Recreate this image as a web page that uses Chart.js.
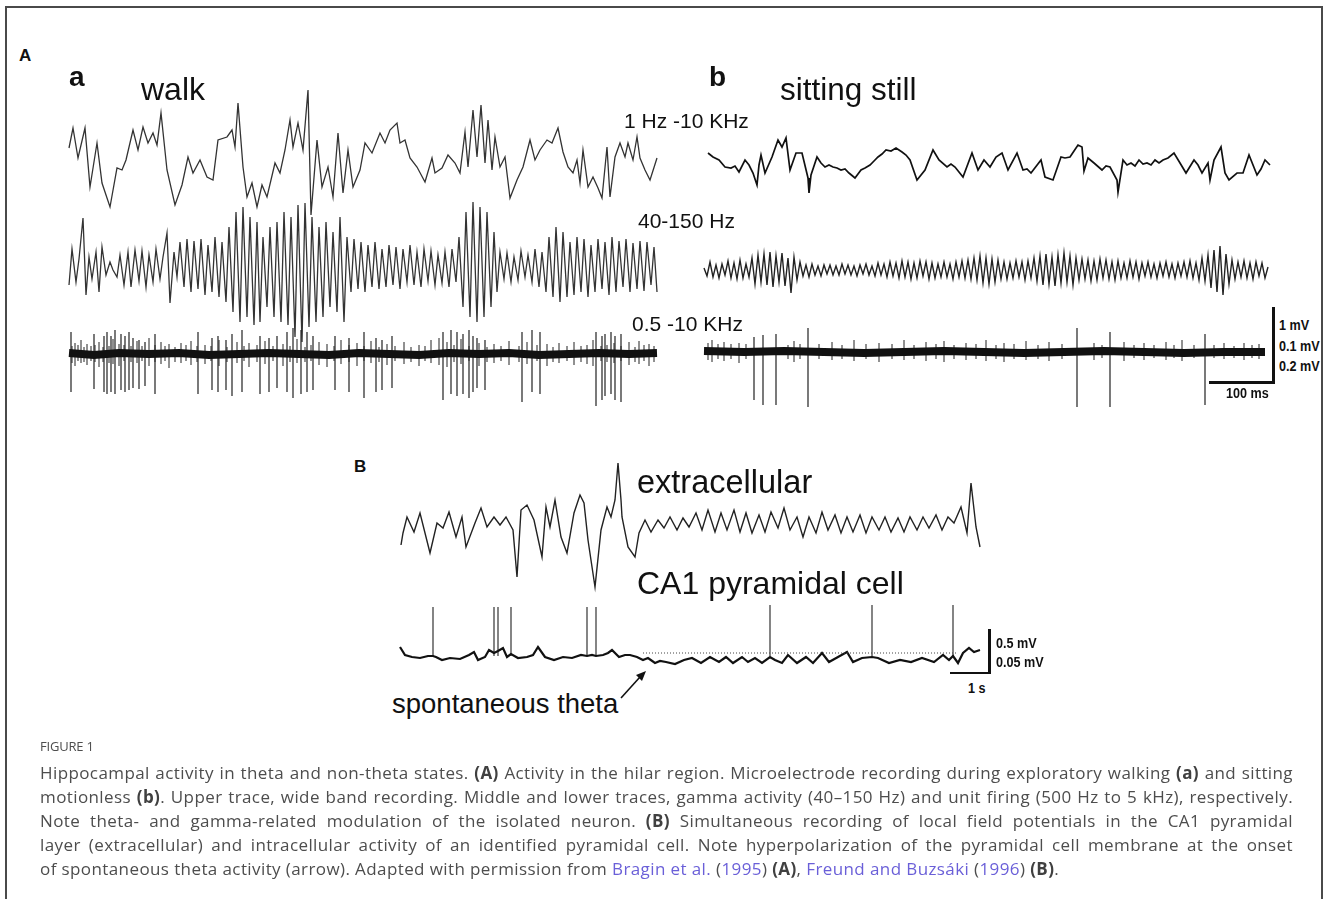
<!DOCTYPE html>
<html>
<head>
<meta charset="utf-8">
<script src="https://cdn.jsdelivr.net/npm/chart.js@4.4.1/dist/chart.umd.min.js"></script>
<style>
  html, body { margin: 0; padding: 0; background: #fff; }
  #fig { position: relative; width: 1328px; height: 899px; overflow: hidden; background: #fff; }
  #frame { position: absolute; left: 5px; top: 6px; width: 1314px; height: 900px;
           border: 2px solid #4a4a4a; border-bottom: none; }
  canvas { position: absolute; }
  .lbl { position: absolute; font-family: "Liberation Sans", Arial, sans-serif; color: #111;
         line-height: 1; white-space: nowrap; }
  .bold { font-weight: bold; }
  .sc { position: absolute; font-family: "Liberation Sans", Arial, sans-serif;
        font-weight: bold; font-size: 14px; line-height: 1; color: #111; white-space: nowrap;
        transform: scaleX(0.9); transform-origin: 0 0; }
  .bar { position: absolute; background: #111; }
  #cap { position: absolute; left: 40px; top: 738px; width: 1253px; font-family: "Open Sans", "Noto Sans", sans-serif;
         color: #4d4d4d; }
  #cap .head { font-size: 13px; line-height: 16px; height: 23px; letter-spacing: -0.2px; }
  #cap .cl { font-size: 17px; letter-spacing: 0.4px; line-height: 24px; height: 24px; text-align: justify; text-align-last: justify; }
  #cap .cl.last { text-align-last: left; }
  #cap b { font-weight: 700; color: #404040; }
  #cap .lk { color: #6a5fd8; }
</style>
</head>
<body>
<div id="fig">
  <div id="frame"></div>
</div>
<script>
// Traces: [time, amplitude] in figure units (1 unit ~ 1 px), amplitude up = positive

// A a - walk, wide band 1 Hz-10 kHz
const walkWide = [[0,7],[4,27],[9,-3],[16,27],[21,-32],[28,12],[33,-28],[41,-52],[48,-13],[53,-15],[57,-5],[64,25],[69,5],[74,28],[79,12],[84,22],[88,10],[92,42],[98,-15],[106,-50],[113,-30],[119,-2],[124,-18],[131,-5],[138,-22],[144,-25],[149,15],[158,18],[163,25],[166,8],[169,52],[174,-12],[178,-42],[183,-28],[188,-52],[193,-30],[198,-42],[206,-8],[211,-18],[216,5],[221,35],[224,8],[229,32],[234,5],[239,65],[242,-60],[248,15],[253,-32],[259,-12],[264,-42],[269,22],[274,-38],[279,5],[284,-32],[291,-15],[296,12],[303,2],[311,22],[316,12],[321,25],[328,32],[331,12],[336,15],[341,-3],[348,-12],[356,-27],[363,-3],[366,-18],[373,-13],[379,0],[386,-8],[391,-18],[396,23],[399,-12],[404,45],[408,-2],[412,50],[416,-8],[419,35],[423,-15],[426,18],[431,-12],[436,-2],[441,-43],[448,-25],[454,-12],[461,15],[466,-5],[471,5],[478,15],[483,12],[489,27],[494,3],[499,-12],[504,-18],[508,-5],[511,-28],[514,5],[519,-32],[524,-22],[529,-33],[533,-43],[538,8],[541,-42],[546,-2],[551,12],[556,-2],[559,12],[564,-5],[568,18],[571,-3],[576,-15],[581,-25],[588,-3]];

// A a - walk, gamma 40-150 Hz
const walkGamma = [[0,-18],[3,18],[7,-15],[10,8],[14,49],[17,-28],[20,10],[23,-12],[27,15],[30,-25],[33,20],[37,-8],[41,5],[44,-3],[48,-10],[51,12],[55,-18],[59,15],[62,-20],[66,17],[70,-14],[73,16],[77,-20],[80,12],[84,-15],[87,18],[91,-12],[94,10],[98,34],[101,-36],[105,15],[108,-10],[111,25],[115,-20],[118,28],[122,-25],[125,26],[129,-22],[132,28],[136,-28],[139,22],[143,-25],[146,30],[150,-30],[153,25],[157,-35],[160,40],[164,-45],[167,55],[171,-55],[174,60],[178,-50],[181,50],[185,-58],[188,45],[191,-55],[194,30],[198,-40],[201,40],[205,-50],[208,45],[212,-55],[215,55],[219,-58],[222,50],[226,-70],[229,62],[233,-75],[236,64],[240,-60],[243,50],[247,-55],[250,40],[254,-50],[257,45],[261,-40],[264,35],[268,-45],[271,50],[275,-55],[278,30],[282,-25],[285,28],[289,-22],[292,25],[296,-25],[299,22],[303,-20],[306,25],[310,-22],[313,18],[317,-20],[320,22],[324,-18],[327,20],[331,-22],[334,18],[338,-15],[341,22],[345,-18],[348,15],[352,-20],[355,18],[359,-14],[362,16],[366,-18],[369,12],[373,-16],[376,15],[380,-20],[383,18],[387,-15],[390,30],[394,-40],[397,55],[401,-50],[404,65],[408,-55],[411,60],[415,-50],[418,55],[422,-40],[425,35],[428,-25],[431,15],[435,-12],[438,14],[442,-15],[445,10],[449,-13],[452,16],[456,-10],[459,12],[463,-15],[466,18],[470,-20],[473,15],[477,-25],[480,30],[484,-30],[487,40],[491,-35],[494,35],[498,-30],[501,25],[505,-28],[508,30],[512,-25],[515,28],[519,-30],[522,22],[526,-25],[529,28],[533,-22],[536,25],[540,-28],[543,30],[547,-25],[550,26],[554,-20],[557,28],[561,-25],[564,24],[568,-22],[571,26],[575,-24],[578,25],[582,-18],[585,20],[588,-25]];

// A a - walk, units 0.5-10 kHz: noise band, small deflections, spikes [time, low, high]
const walkBand = [[0,1],[25,-1],[50,1],[80,0],[110,1],[140,-1],[170,0],[200,1],[230,0],[260,-1],[290,1],[320,0],[350,-1],[380,1],[410,0],[440,1],[470,-1],[500,0],[530,1],[560,0],[588,1]];
const walkHairs = [[3,-9,8],[6,-12,11],[9,-7,9],[12,-9,14],[15,-8,7],[18,-11,10],[22,-7,8],[26,-8,9],[30,-13,12],[34,-8,7],[40,-9,8],[44,-10,15],[50,-12,10],[55,-7,9],[62,-8,8],[68,-9,13],[73,-7,8],[80,-12,16],[86,-8,9],[92,-10,12],[96,-7,8],[100,-14,10],[106,-8,7],[112,-9,11],[117,-7,9],[122,-11,13],[128,-8,8],[136,-10,9],[142,-7,8],[150,-12,14],[158,-8,7],[168,-9,12],[175,-7,8],[180,-13,11],[188,-8,9],[196,-10,13],[204,-7,8],[214,-12,10],[221,-8,8],[228,-9,15],[236,-8,7],[242,-7,9],[250,-11,12],[258,-13,10],[265,-7,8],[272,-10,14],[280,-8,9],[288,-12,11],[295,-7,8],[302,-9,13],[310,-8,7],[318,-11,10],[326,-7,8],[335,-10,12],[342,-8,7],[350,-12,9],[356,-7,8],[362,-9,14],[370,-11,16],[378,-13,12],[385,-8,9],[392,-10,15],[400,-7,8],[410,-12,11],[418,-8,7],[425,-9,10],[432,-7,8],[440,-11,13],[450,-8,8],[458,-10,12],[468,-7,9],[478,-12,10],[484,-8,7],[490,-9,11],[498,-7,8],[505,-11,12],[512,-8,8],[518,-10,9],[524,-12,14],[532,-7,8],[538,-8,9],[545,-9,11],[552,-7,8],[560,-11,12],[566,-8,7],[570,-10,13],[575,-7,9],[580,-12,10],[585,-8,8]];
const walkSpikes = [[2,-38,22],[25,-35,20],[35,-38,18],[38,-40,22],[42,-38,18],[46,-40,24],[52,-36,20],[56,-38,18],[60,-36,22],[64,-34,16],[70,-35,14],[76,-32,12],[86,-40,20],[129,-40,22],[143,-36,16],[149,-38,18],[157,-36,14],[163,-42,20],[173,-38,24],[191,-40,18],[200,-38,16],[208,-34,18],[218,-38,22],[224,-44,26],[232,-40,24],[238,-38,22],[244,-36,18],[266,-36,18],[280,-38,16],[295,-44,22],[307,-38,16],[313,-36,14],[323,-34,18],[374,-46,22],[382,-40,24],[388,-42,22],[394,-40,20],[400,-44,24],[404,-38,18],[408,-34,16],[416,-36,14],[453,-48,22],[463,-38,24],[471,-40,22],[527,-52,22],[533,-46,18],[536,-42,20],[542,-40,22],[546,-46,18],[552,-48,20]];

// A b - sitting still, wide band
const stillWide = [[1,10],[6,6],[12,3],[18,-4],[24,-5],[28,-3],[32,-9],[38,3],[42,-2],[46,-10],[50,-22],[52,-2],[54,8],[58,-10],[65,6],[71,23],[75,16],[79,25],[83,-7],[89,10],[95,10],[101,-15],[102,-30],[104,-12],[110,6],[114,0],[118,-4],[122,-2],[126,-4],[130,-5],[134,-7],[138,-6],[142,-10],[148,-15],[154,-7],[158,-5],[163,-2],[167,2],[171,6],[175,9],[179,13],[184,12],[189,15],[195,11],[199,8],[203,3],[210,-17],[218,-7],[226,13],[232,3],[240,-4],[244,-1],[248,-4],[256,-14],[265,10],[271,-7],[277,3],[283,-4],[289,6],[295,10],[301,-7],[310,10],[316,-7],[320,-6],[324,-10],[334,3],[338,-14],[346,-17],[354,6],[358,5],[363,6],[367,12],[371,18],[375,16],[377,-8],[381,5],[387,0],[395,-7],[399,-3],[403,-4],[410,-17],[411,-29],[416,3],[420,-2],[424,0],[428,-3],[432,3],[436,-1],[440,0],[444,-2],[448,3],[452,0],[456,3],[461,5],[467,10],[473,0],[479,-10],[487,3],[491,-2],[495,-10],[501,0],[503,-17],[507,3],[514,16],[518,-10],[522,-17],[530,-10],[536,-10],[542,8],[550,-12],[554,-6],[558,3],[563,-2]];

// A b - sitting still, gamma (one sample every 3 units)
const stillGammaStep = 3;
const stillGamma = [2,-6,8,-7,5,-8,6,-5,9,-8, 7,-9,10,-8,6,-7,12,-14,15,-12, 16,-15,18,-17,14,-12,17,-16,12,-23,
  13,-10,8,-6,5,-7,6,-5,4,-6, 5,-4,5,-5,4,-5,6,-4,5,-5, 4,-6,5,-4,6,-5,4,-6,7,-5,
  6,-7,8,-6,7,-8,9,-7,8,-9, 7,-8,9,-6,8,-9,7,-8,6,-7, 8,-7,6,-9,8,-7,9,-8,10,-9,
  12,-10,14,-13,12,-14,11,-12,10,-9, 8,-9,7,-8,9,-7,8,-10,9,-8, 12,-11,14,-15,16,-14,13,-16,15,-13,
  17,-12,14,-15,12,-10,11,-9,10,-11, 9,-10,11,-8,10,-9,8,-10,9,-8, 7,-8,9,-7,8,-9,7,-6,8,-7,
  6,-8,7,-6,8,-7,6,-8,7,-6, 8,-7,9,-8,7,-10,12,-11,15,-18, 20,-22,24,-25,16,-14,10,-9,8,-7,
  9,-8,7,-9,8,-6,7,-8,3];

// A b - sitting still, units
const stillBand = [[0,1],[40,0],[80,1],[120,0],[160,-1],[200,0],[240,1],[280,0],[320,-1],[360,0],[400,1],[440,0],[480,-1],[520,0],[561,0]];
const stillHairs = [[4,-8,9],[8,-10,12],[14,-7,8],[20,-9,10],[27,-7,8],[35,-11,9],[42,-7,8],[84,-7,7],[90,-10,11],[96,-7,8],[115,-7,8],[128,-8,10],[138,-7,7],[150,-9,12],[162,-7,8],[175,-10,9],[188,-7,8],[200,-8,12],[210,-7,7],[222,-9,10],[232,-7,8],[240,-10,11],[250,-7,7],[262,-8,9],[272,-7,8],[282,-9,12],[292,-7,7],[300,-10,9],[310,-7,8],[322,-8,11],[334,-7,7],[345,-9,10],[358,-7,8],[390,-8,9],[398,-6,7],[420,-9,10],[430,-6,7],[440,-8,9],[450,-6,7],[462,-8,10],[470,-6,7],[478,-9,12],[490,-6,7],[510,-6,7],[520,-7,9],[530,-6,6],[540,-8,9],[548,-6,7],[555,-7,8]];
const stillSpikes = [[50,-48,15],[59,-53,17],[72,-53,18],[104,-55,24],[373,-55,24],[406,-55,20],[501,-53,18]];

// B - extracellular
const extra = [[0,-20],[2,-8],[6,8],[13,-7],[19,12],[25,-12],[29,-28],[36,2],[42,-3],[48,13],[55,-12],[61,8],[65,-22],[74,2],[80,17],[86,-2],[93,8],[99,0],[105,8],[112,-5],[116,-52],[120,15],[126,20],[133,5],[141,-32],[145,18],[149,-2],[154,25],[160,-12],[166,-28],[173,12],[179,30],[183,22],[187,-15],[194,-62],[200,-5],[206,18],[210,8],[214,25],[217,62],[220,25],[221,8],[227,-22],[234,-32],[238,-8],[244,5],[250,-7],[257,5],[263,-3],[269,8],[276,-5],[282,7],[288,-2],[295,12],[301,-5],[307,15],[314,-7],[320,12],[326,-5],[333,15],[339,-7],[345,12],[351,-8],[358,10],[364,-7],[370,13],[377,-3],[383,17],[389,-5],[396,8],[402,-12],[408,8],[415,-8],[421,13],[427,-5],[434,10],[440,-8],[446,8],[452,-7],[459,10],[465,-8],[471,8],[478,-5],[484,8],[490,-7],[497,7],[503,-7],[509,8],[516,-5],[522,8],[528,-3],[535,10],[541,-5],[547,8],[553,2],[560,18],[566,-8],[570,42],[575,-2],[579,-22]];

// B - CA1 pyramidal cell (membrane trace, spikes [time, peak], reference level)
const ca1 = [[0,10],[5,2],[12,0],[20,-1],[28,1],[33,1],[36,0],[42,-3],[50,-1],[60,-2],[69,2],[74,5],[78,-3],[85,0],[89,7],[94,4],[98,6],[103,9],[107,0],[111,3],[118,-1],[127,0],[133,2],[138,10],[145,0],[154,-3],[163,0],[172,-1],[181,2],[187,1],[192,2],[196,1],[203,2],[208,4],[212,7],[219,0],[225,2],[230,2],[237,0],[243,-3],[248,-1],[255,-6],[260,-4],[266,-5],[275,-7],[284,-3],[292,-1],[301,-6],[310,0],[319,-5],[326,0],[333,-6],[342,0],[348,-5],[355,-1],[362,-6],[370,0],[375,-3],[382,-6],[388,2],[397,-6],[406,0],[413,-6],[422,4],[429,-5],[438,0],[447,5],[453,-5],[462,-1],[472,0],[478,-1],[489,-6],[500,-3],[511,-5],[522,-1],[534,-5],[543,2],[549,-3],[553,1],[558,-6],[563,4],[569,9],[574,5],[580,7]];
const ca1Spikes = [[33,50],[94,50],[98,50],[111,50],[187,50],[196,50],[370,52],[472,52],[553,52]];
const ca1Ref = [[243,4],[556,4]];

// ---- drawing ----
const fig = document.getElementById('fig');
const PAD = 6;

function toXY(pairs) { return pairs.map(p => ({x: p[0], y: p[1]})); }
function toSegs(list) {
  const out = [];
  for (const s of list) { out.push({x: s[0], y: s[1]}, {x: s[0], y: s[2]}, {x: s[0], y: null}); }
  return out;
}
function ds(data, color, width, extra) {
  return Object.assign({data: data, borderColor: color, borderWidth: width, pointRadius: 0,
    tension: 0, clip: false, spanGaps: false, fill: false, borderCapStyle: 'butt'}, extra || {});
}

// pos: x0 = left of trace, w = trace length, base = baseline y, top/h = canvas band
function drawTrace(pos, datasets) {
  const c = document.createElement('canvas');
  c.width = pos.w + 2 * PAD; c.height = pos.h;
  c.style.left = (pos.x0 - PAD) + 'px'; c.style.top = pos.top + 'px';
  c.style.width = c.width + 'px'; c.style.height = c.height + 'px';
  fig.appendChild(c);
  new Chart(c, {
    type: 'line',
    data: {datasets: datasets},
    options: {
      responsive: false, animation: false, devicePixelRatio: 1,
      layout: {padding: 0},
      scales: {
        x: {type: 'linear', display: false, min: -PAD, max: pos.w + PAD},
        y: {type: 'linear', display: false, min: pos.base - pos.top - pos.h, max: pos.base - pos.top}
      },
      plugins: {legend: {display: false}, tooltip: {enabled: false}}
    }
  });
}

drawTrace({x0: 69, w: 588, base: 155, top: 80, h: 150}, [ds(toXY(walkWide), '#333', 1.3)]);
drawTrace({x0: 69, w: 588, base: 267, top: 185, h: 165}, [ds(toXY(walkGamma), '#333', 1.3)]);
drawTrace({x0: 69, w: 588, base: 354, top: 300, h: 120}, [
  ds(toXY(walkBand), '#111', 8),
  ds(toSegs(walkHairs), '#222', 1),
  ds(toSegs(walkSpikes), '#222', 1.2)
]);

drawTrace({x0: 707, w: 563, base: 163, top: 120, h: 90}, [ds(toXY(stillWide), '#111', 1.7)]);
drawTrace({x0: 704, w: 564, base: 270, top: 235, h: 70},
  [ds(stillGamma.map((v, i) => ({x: i * stillGammaStep, y: v})), '#222', 1.4)]);
drawTrace({x0: 704, w: 562, base: 352, top: 315, h: 105}, [
  ds(toXY(stillBand), '#111', 8),
  ds(toSegs(stillHairs), '#222', 1),
  ds(toSegs(stillSpikes), '#222', 1.2)
]);

drawTrace({x0: 401, w: 580, base: 525, top: 450, h: 150}, [ds(toXY(extra), '#222', 1.4)]);
drawTrace({x0: 400, w: 580, base: 657, top: 595, h: 80}, [
  ds(toXY(ca1Ref), '#444', 1, {borderDash: [1, 2]}),
  ds(toXY(ca1), '#111', 2.2),
  ds(toSegs(ca1Spikes.map(s => [s[0], 1, s[1]])), '#222', 1.1)
]);

// ---- text ----
function label(text, cls, left, top, size) {
  const d = document.createElement('div');
  d.className = cls; d.textContent = text;
  d.style.left = left + 'px'; d.style.top = top + 'px';
  if (size) d.style.fontSize = size + 'px';
  fig.appendChild(d);
}
label('A', 'lbl bold', 19, 47, 17);
label('a', 'lbl bold', 69, 63, 28);
label('walk', 'lbl', 141, 73, 32);
label('1 Hz -10 KHz', 'lbl', 624, 110, 21);
label('40-150 Hz', 'lbl', 638, 210, 21);
label('0.5 -10 KHz', 'lbl', 632, 313, 21);
label('b', 'lbl bold', 709, 63, 28);
label('sitting still', 'lbl', 780, 74, 31.5);
label('B', 'lbl bold', 354, 458, 17);
label('extracellular', 'lbl', 637, 466, 32.5);
label('CA1 pyramidal cell', 'lbl', 637, 567, 32);
label('spontaneous theta', 'lbl', 392, 690, 27.5);

label('1 mV', 'sc', 1279, 318);
label('0.1 mV', 'sc', 1279, 339);
label('0.2 mV', 'sc', 1279, 359);
label('100 ms', 'sc', 1226, 386);
label('0.5 mV', 'sc', 996, 636);
label('0.05 mV', 'sc', 996, 655);
label('1 s', 'sc', 968, 681);

function bar(left, top, w, h) {
  const d = document.createElement('div');
  d.className = 'bar';
  d.style.left = left + 'px'; d.style.top = top + 'px';
  d.style.width = w + 'px'; d.style.height = h + 'px';
  fig.appendChild(d);
}
// scale bars
bar(1272, 307, 3, 77); bar(1209, 381, 66, 3);
bar(988, 629, 2.5, 45); bar(950, 671.5, 40, 2.5);
</script>
<svg style="position:absolute;left:0;top:0" width="1328" height="899">
  <line x1="621" y1="698" x2="640" y2="677" stroke="#111" stroke-width="1.6"/>
  <polygon points="646,671 642,681 636,675" fill="#111"/>
</svg>
<div id="cap">
  <div class="head">FIGURE 1</div>
  <div class="cl">Hippocampal activity in theta and non-theta states. <b>(A)</b> Activity in the hilar region. Microelectrode recording during exploratory walking <b>(a)</b> and sitting</div>
  <div class="cl">motionless <b>(b)</b>. Upper trace, wide band recording. Middle and lower traces, gamma activity (40–150 Hz) and unit firing (500 Hz to 5 kHz), respectively.</div>
  <div class="cl">Note theta- and gamma-related modulation of the isolated neuron. <b>(B)</b> Simultaneous recording of local field potentials in the CA1 pyramidal</div>
  <div class="cl">layer (extracellular) and intracellular activity of an identified pyramidal cell. Note hyperpolarization of the pyramidal cell membrane at the onset</div>
  <div class="cl last">of spontaneous theta activity (arrow). Adapted with permission from <span class="lk">Bragin et al.</span> (<span class="lk">1995</span>) <b>(A)</b>, <span class="lk">Freund and Buzsáki</span> (<span class="lk">1996</span>) <b>(B)</b>.</div>
</div>
</body>
</html>
